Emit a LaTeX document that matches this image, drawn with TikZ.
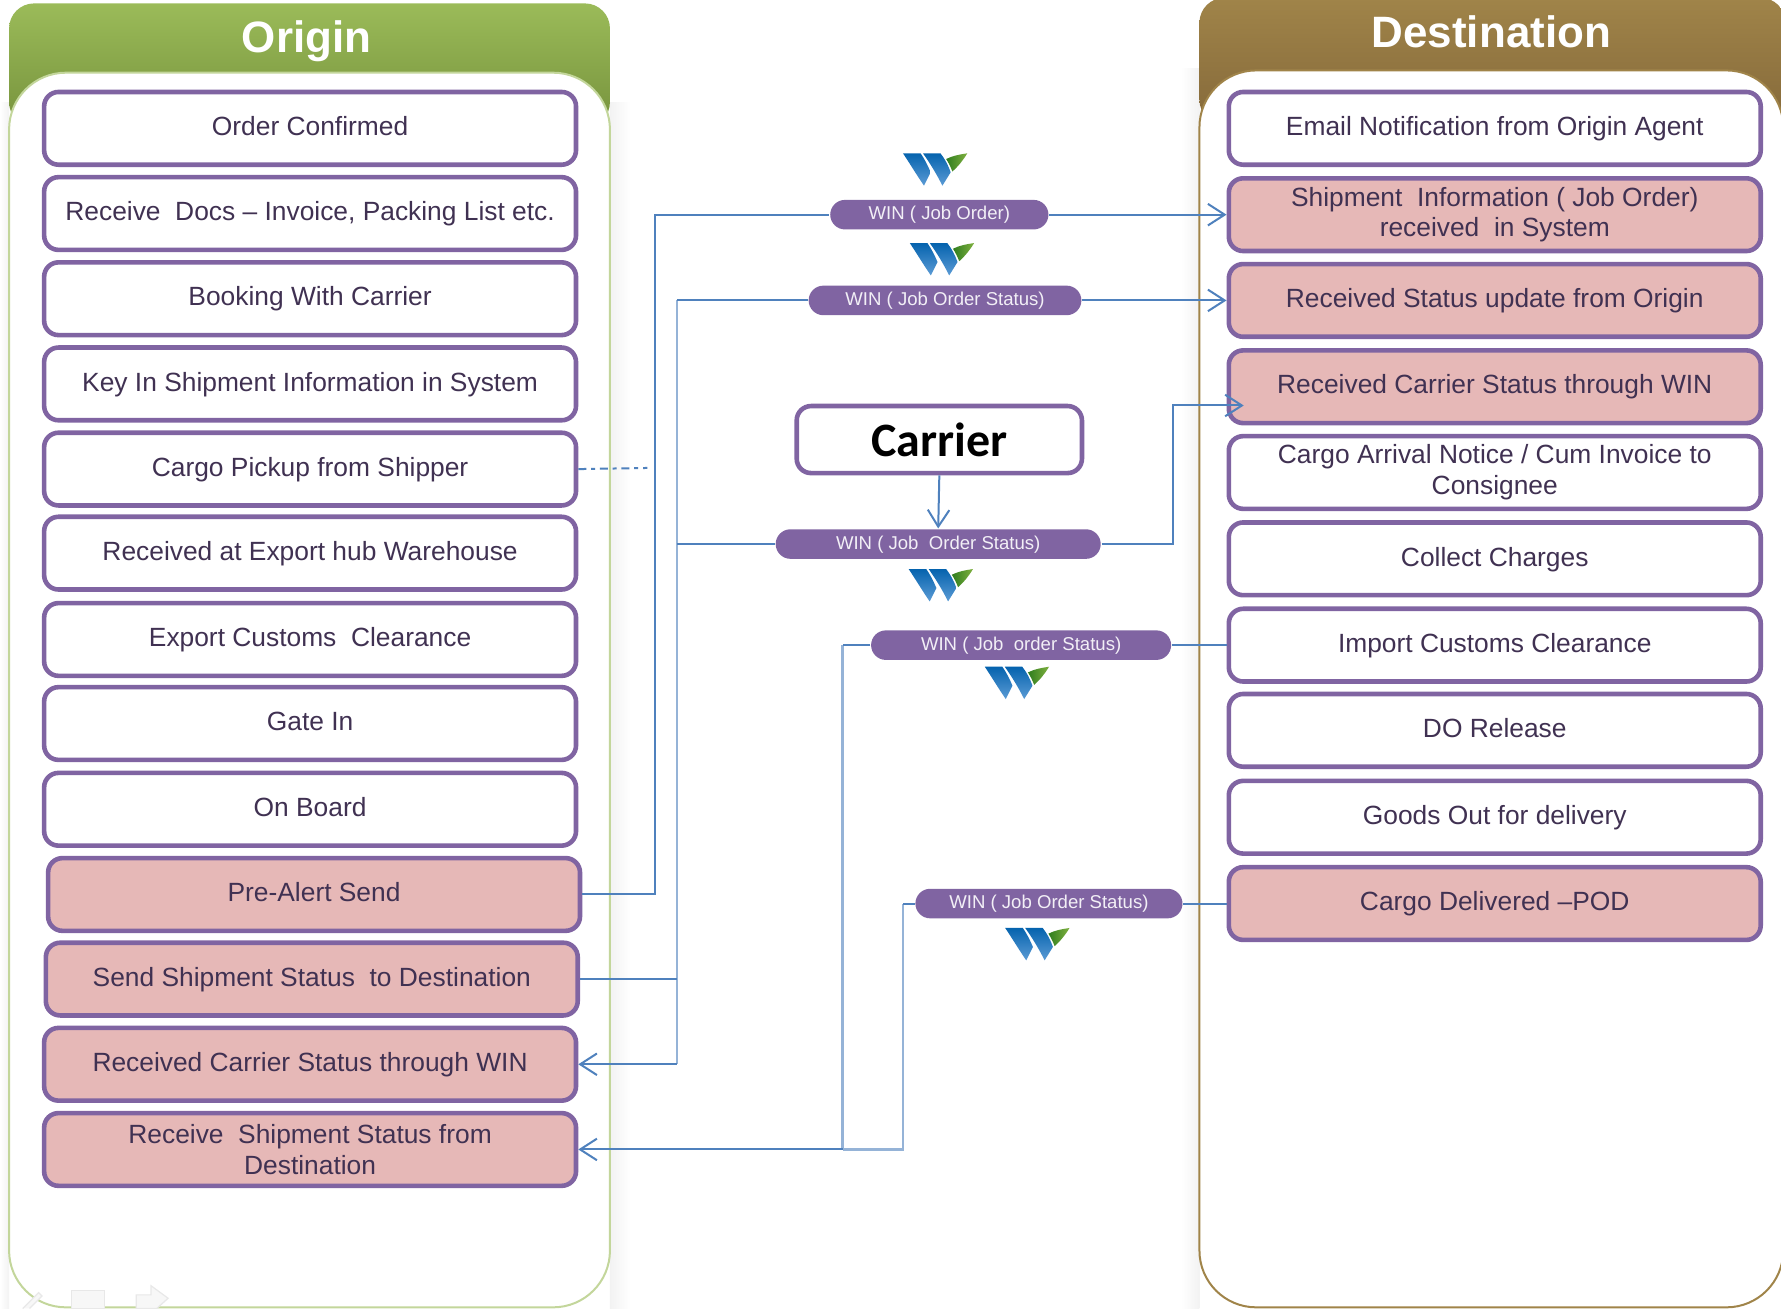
\documentclass[tikz,border=0pt]{standalone}
\usepackage{fontspec}
\setmainfont{Liberation Sans}
\newfontfamily\carrierfont{Carlito}
\usetikzlibrary{arrows.meta}
\definecolor{boxpurple}{HTML}{8064A2}
\definecolor{boxtext}{HTML}{403152}
\definecolor{boxpink}{HTML}{E6B8B7}
\definecolor{linkblue}{HTML}{4F81BD}
\definecolor{greenhead}{HTML}{9BBB59}
\definecolor{greendark}{HTML}{76923C}
\definecolor{greenedge}{HTML}{C3D69B}
\definecolor{brownhead}{HTML}{A08449}
\definecolor{browndark}{HTML}{85693A}
\definecolor{winblue}{HTML}{0563AE}
\definecolor{winsky}{HTML}{5B9BD5}
\definecolor{leafdark}{HTML}{2F7D1E}
\definecolor{leaflight}{HTML}{7FB03F}
\tikzset{
  stagebox/.style={draw=boxpurple,line width=1.15pt,fill=white,rounded corners=3.6pt,minimum width=4.68cm,minimum height=.64cm,inner sep=0pt,align=center,text=boxtext,text height=5pt,text depth=1.4pt,font=\fontsize{6.6}{7.7}\selectfont},
  winbox/.style={stagebox,fill=boxpink},
  twolines/.style={text height=,text depth=},
  winpill/.style={fill=boxpurple,rounded corners=.13cm,minimum height=.26cm,inner sep=0pt,text=white!90!boxpurple,text height=3.6pt,text depth=1pt,font=\fontsize{4.65}{5.5}\selectfont},
  paneltitle/.style={text=white,font=\fontsize{11}{12}\selectfont\bfseries},
  link/.style={draw=linkblue,line width=.5pt},
  railpale/.style={draw=linkblue!60!white,line width=.7pt},
  fadedicon/.style={draw=gray!18,fill=gray!6,line width=.3pt},
  winlogo/.pic={
    \path[top color=winblue,bottom color=winsky] (0,0)--(15.5,0) .. controls (19,5) and (22,11) .. (24.4,16.7)--(18.5,28.5) .. controls (12,19) and (6,9) .. (0,0)--cycle;
    \path[top color=winblue,bottom color=winsky] (17.6,0)--(33,0) .. controls (37,5) and (40,11) .. (42,16.7)--(34.7,28.5) .. controls (30,19) and (24,9) .. (17.6,0)--cycle;
    \path[left color=leafdark,right color=leaflight] (38,5) .. controls (44,2) and (50,1) .. (56.6,0) .. controls (53,6) and (49,11) .. (43.5,16) .. controls (42,12) and (40,8) .. (38,5)--cycle;
  }
}
\begin{document}
\begin{tikzpicture}[x=.01cm,y=-.01cm,>={Straight Barb[length=4.2pt,width=5.4pt]}]
\useasboundingbox (0,0) rectangle (1568,1152);
\path[left color=white,right color=gray!10] (0,90) rectangle (8,1152);
\path[left color=gray!10,right color=white] (537,90) rectangle (555,1152);
\path[left color=white,right color=gray!10] (1040,60) rectangle (1056,1152);
\path[top color=greenhead,middle color=greenhead,bottom color=greendark,rounded corners=.22cm] (8,3) rectangle (537,112);
\draw[fill=white,draw=greenedge,line width=.5pt,rounded corners=.5cm] (8,64) rectangle (537,1151);
\path[top color=brownhead,middle color=brownhead,bottom color=browndark,rounded corners=.22cm] (1056,-2) rectangle (1572,110);
\draw[fill=white,draw=brownhead,line width=.5pt,rounded corners=.5cm] (1056,62) rectangle (1570,1151);
\node[paneltitle] (origintitle) at (270,36) {Origin};
\node[paneltitle] (desttitle) at (1313,28) {Destination};
\node[stagebox] (orderconf) at (273,113) {Order Confirmed};
\node[stagebox] (recdocs) at (273,188) {Receive\ \ Docs -- Invoice, Packing List etc.};
\node[stagebox] (booking) at (273,263) {Booking With Carrier};
\node[stagebox] (keyin) at (273,338) {Key In Shipment Information in System};
\node[stagebox] (pickup) at (273,413) {Cargo Pickup from Shipper};
\node[stagebox] (exporthub) at (273,487) {Received at Export hub Warehouse};
\node[stagebox] (exportcust) at (273,563) {Export Customs\ \ Clearance};
\node[stagebox] (gatein) at (273,637) {Gate In};
\node[stagebox] (onboard) at (273,712.5) {On Board};
\node[winbox] (prealert) at (276.5,787.5) {Pre-Alert Send};
\node[winbox] (sendstatus) at (274.5,862) {Send Shipment Status\ \ to Destination};
\node[winbox] (reccarrier) at (273,937) {Received Carrier Status through WIN};
\node[winbox,twolines] (recstatus) at (273,1012) {Receive\ \ Shipment Status from\\Destination};
\node[stagebox] (email) at (1316,113) {Email Notification from Origin Agent};
\node[winbox,twolines] (shipinfo) at (1316,189) {Shipment\ \ Information ( Job Order)\\received\ \ in System};
\node[winbox] (statusupd) at (1316,264.5) {Received Status update from Origin};
\node[winbox] (destcarrier) at (1316,340.5) {Received Carrier Status through WIN};
\node[stagebox,twolines] (arrival) at (1316,416) {Cargo Arrival Notice / Cum Invoice to\\Consignee};
\node[stagebox] (charges) at (1316,492) {Collect Charges};
\node[stagebox] (importcust) at (1316,568) {Import Customs Clearance};
\node[stagebox] (dorelease) at (1316,643) {DO Release};
\node[stagebox] (goodsout) at (1316,719.5) {Goods Out for delivery};
\node[winbox] (delivered) at (1316,795.5) {Cargo Delivered --POD};
\node[stagebox,minimum width=2.51cm,minimum height=.59cm,text=black,text height=9pt,text depth=.5pt,font=\carrierfont\fontsize{12}{13}\selectfont\bfseries] (carrier) at (827,387) {Carrier};
\node[winpill,minimum width=1.92cm] (pillorder) at (827,189) {WIN ( Job Order)};
\node[winpill,minimum width=2.4cm] (pillstatus) at (832,264.5) {WIN ( Job Order Status)};
\node[winpill,minimum width=2.86cm] (pillcarrier) at (826,479) {WIN ( Job\ \ Order Status)};
\node[winpill,minimum width=2.64cm] (pillimport) at (899,568) {WIN ( Job\ \ order Status)};
\node[winpill,minimum width=2.35cm] (pilldeliv) at (923.5,795.5) {WIN ( Job Order Status)};
\pic at (795,135) {winlogo};
\pic at (801,214) {winlogo};
\pic at (800,501) {winlogo};
\pic at (867,587) {winlogo};
\pic at (885,817) {winlogo};
\coordinate (railorder) at (577,189);
\coordinate (railstatus) at (596,264.5);
\coordinate (railcarrier) at (596,479);
\coordinate (railimport) at (742,568);
\coordinate (raildeliv) at (795,795.5);
\coordinate (destbend) at (1033,357);
\coordinate (desttip) at (1095,357);
\coordinate (pickupend) at (570,412);
\draw[railpale] (railstatus) -- (railstatus |- reccarrier.east);
\draw[railpale] (railimport) -- (railimport |- recstatus.east);
\draw[railpale] (raildeliv) |- (railimport |- recstatus.east);
\draw[link] (prealert.east) -| (railorder) -- (pillorder.west);
\draw[link,->] (pillorder.east) -- (shipinfo.west);
\draw[link] (sendstatus.east) -- (railstatus |- sendstatus.east);
\draw[link] (railstatus) -- (pillstatus.west);
\draw[link,->] (pillstatus.east) -- (statusupd.west);
\draw[link] (railcarrier) -- (pillcarrier.west);
\draw[link,->] (railstatus |- reccarrier.east) -- (reccarrier.east);
\draw[link,->] (carrier.south) -- (pillcarrier.north);
\draw[link,->] (pillcarrier.east) -| (destbend) -- (desttip);
\draw[link] (importcust.west) -- (pillimport.east);
\draw[link] (pillimport.west) -- (railimport);
\draw[link,->] (railimport |- recstatus.east) -- (recstatus.east);
\draw[link] (delivered.west) -- (pilldeliv.east);
\draw[link] (pilldeliv.west) -- (raildeliv);
\draw[link,dash pattern=on 2pt off 1.2pt on 1pt off 1.2pt] (pickup.east) -- (pickupend);
\draw[fadedicon] (20,1152)--(34,1138)--(37,1141)--(26,1152);
\draw[fadedicon] (63,1136) rectangle (92,1152);
\draw[fadedicon] (120,1140)--(133,1140)--(133,1132)--(148,1143)--(138,1152)--(120,1152)--cycle;
\end{tikzpicture}
\end{document}
